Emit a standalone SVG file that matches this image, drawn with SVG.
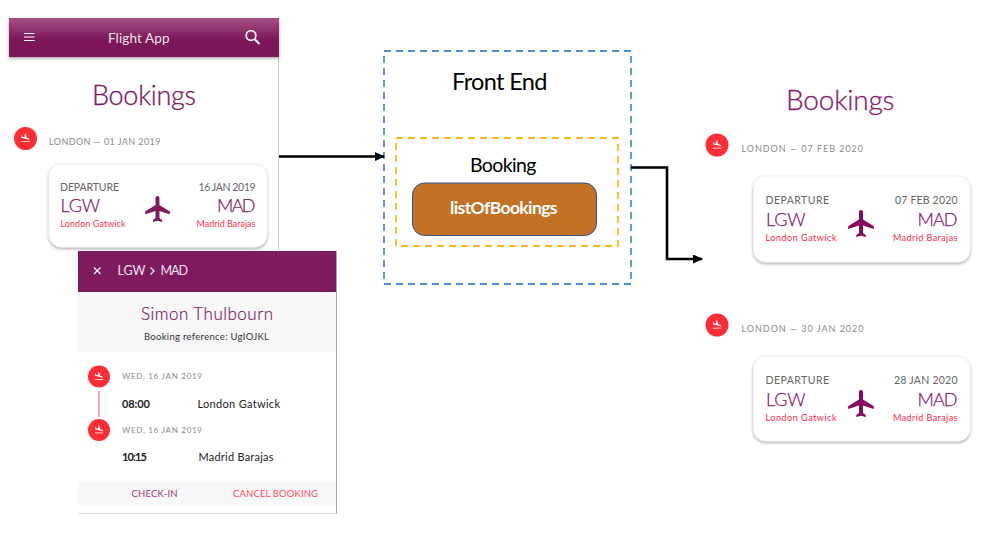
<svg xmlns="http://www.w3.org/2000/svg" xmlns:xlink="http://www.w3.org/1999/xlink" width="983" height="550" viewBox="0 0 983 550">
<style>
text{font-family:"Lato","Open Sans","Liberation Sans",sans-serif}
.title{fill:#7e1a5e;stroke:#7e1a5e;stroke-width:.3px;font-size:27px;font-weight:300}
.t2{fill:#8a1a6c;stroke:#8a1a6c}
.grey{fill:#8b8b8b;font-size:9px}
.g2{font-size:8px}
.dep{fill:#666;font-size:10.500px}
.code{fill:#7e1a5e;stroke:#7e1a5e;stroke-width:.25px;font-size:18px;font-weight:300}
.c2{fill:#8a1470;stroke:#8a1470}
.place{fill:#ff3347;font-size:9px}
.p2{fill:#ff1f48;font-weight:400}
.dark{fill:#222;font-size:11px}
.lite{fill:#f0e4ec;font-weight:400}
.card{fill:#fff;stroke:#eee;stroke-width:.7;filter:url(#sh)}
.pl{fill:#7e1a5e}
.pl2{fill:#850a60}
.cn{fill:none;stroke:#000;stroke-width:2.600}
</style>
<defs>
<linearGradient id="hd" x1="0" y1="0" x2="0" y2="1"><stop offset="0" stop-color="#a85185"/><stop offset=".55" stop-color="#7b1858"/><stop offset="1" stop-color="#7b1858"/></linearGradient>
<filter id="sh" x="-10%" y="-10%" width="120%" height="125%"><feDropShadow dx="0" dy="1.500" stdDeviation="1.500" flood-color="#000" flood-opacity=".35"/></filter>
<marker id="ah" markerWidth="10" markerHeight="9" refX="9" refY="4.500" orient="auto" markerUnits="userSpaceOnUse"><path d="M0 0L10 4.500L0 9z" fill="#000"/></marker>
<symbol id="land" viewBox="0 0 24 24" overflow="visible"><circle cx="12" cy="12" r="12" fill="#ff2d35"/><g transform="translate(6.500 6) scale(.46)" fill="#fff"><path d="M2.500 19h19v2h-19zm7.180-5.730l4.350 1.160 5.310 1.420c.8.210 1.620-.26 1.840-1.060.21-.8-.26-1.620-1.060-1.840l-5.310-1.420-2.760-9.020L10.120 2v8.280L5.150 8.950l-.93-2.320-1.450-.39v5.170l1.600.43 5.310 1.430z"/></g></symbol>
<symbol id="plane" viewBox="2 2 19 20"><path d="M21 16v-2l-8-5V3.500c0-.83-.67-1.500-1.500-1.500S10 2.670 10 3.500V9l-8 5v2l8-2.500V19l-2 1.500V22l3.500-1 3.500 1v-1.500L13 19v-5.500l8 2.500z"/></symbol>
</defs>
<rect width="983" height="550" fill="#fff"/>

<g id="app-screen">
<path d="M278.500 57V250" stroke="#ccc" fill="none"/>
<rect x="9" y="18" width="270" height="39" fill="url(#hd)" filter="url(#sh)"/>
<path d="M24 33.500h10.500M24 37h10.500M24 40.500h10.500" stroke="#fff" stroke-width="1.200"/>
<text class="lite" x="108" y="42.500" font-size="13.500" textLength="61.500">Flight App</text>
<circle cx="251" cy="35.500" r="4.800" fill="none" stroke="#fff" stroke-width="1.700"/><path d="M254.500 39l5 5" stroke="#fff" stroke-width="2"/>
<text class="title" x="92" y="105" textLength="104">Bookings</text>
<use xlink:href="#land" x="14" y="127" width="23" height="23"/>
<text class="grey" x="49" y="144.500" textLength="111.500">LONDON — 01 JAN 2019</text>
<rect class="card" x="49" y="164" width="218" height="83" rx="12"/>
<text class="dep" x="60" y="191" textLength="59">DEPARTURE</text>
<text class="dep" x="255.500" y="191" text-anchor="end" textLength="57">16 JAN 2019</text>
<text class="code" x="60.500" y="212" textLength="39.500">LGW</text>
<text class="code" x="255.500" y="212" text-anchor="end" textLength="38.500">MAD</text>
<text class="place" x="60.500" y="227" textLength="65">London Gatwick</text>
<text class="place" x="255.500" y="227" text-anchor="end" textLength="59">Madrid Barajas</text>
<use xlink:href="#plane" class="pl" x="145" y="196" width="25" height="26"/>
</g>

<g id="booking-detail">
<rect x="78" y="251" width="258.500" height="263" fill="#fff"/>
<path d="M336.500 251V514" stroke="#aaa" fill="none"/>
<path d="M78 513.500H336" stroke="#ddd" fill="none"/>
<rect x="78" y="251" width="258" height="41" fill="#7e1a5e"/>
<path d="M94 267.500l6.500 6.500M100.500 267.500l-6.500 6.500" stroke="#fff" stroke-width="1.200"/>
<text class="lite" x="117.500" y="275" font-size="12.500" textLength="28">LGW</text>
<path d="M150.500 267.500l3.500 3.500l-3.500 3.500" fill="none" stroke="#f0e4ec" stroke-width="1.300"/>
<text class="lite" x="160.500" y="275" font-size="12.500" textLength="27.500">MAD</text>
<rect x="78" y="292" width="258" height="60" fill="#f8f8f8"/>
<text x="141" y="319.500" fill="#7e1a5e" stroke="#7e1a5e" stroke-width=".2" font-size="17" font-weight="300" textLength="132">Simon Thulbourn</text>
<text x="144" y="340" fill="#333" font-size="9.500" textLength="125">Booking reference: UgIOJKL</text>
<path d="M99 391V417" stroke="#ffabab" stroke-width="2"/>
<use xlink:href="#land" x="88" y="365.500" width="22" height="22"/>
<use xlink:href="#land" x="88" y="419" width="22" height="22"/>
<text class="grey g2" x="122" y="379" textLength="80">WED, 16 JAN 2019</text>
<text class="dark" x="122" y="407.500" textLength="28" font-weight="700">08:00</text>
<text class="dark" x="197.500" y="407.500" textLength="82.500">London Gatwick</text>
<text class="grey g2" x="122" y="433" textLength="80">WED, 16 JAN 2019</text>
<text class="dark" x="122" y="461" textLength="25" font-weight="700">10:15</text>
<text class="dark" x="198.500" y="461" textLength="75">Madrid Barajas</text>
<rect x="78" y="482" width="258" height="24" fill="#f8f8f8"/>
<text x="131.500" y="497" fill="#a0377f" font-size="9.500" textLength="46">CHECK-IN</text>
<text x="233" y="497" fill="#ff4d5e" font-size="9.500" textLength="85">CANCEL BOOKING</text>
</g>

<g id="front-end">
<rect x="384" y="51" width="247" height="233" fill="none" stroke="#4f8fd3" stroke-width="1.800" stroke-dasharray="7 5"/>
<text x="452" y="90" fill="#000" font-size="23.500" textLength="95.500">Front End</text>
</g>
<g id="booking">
<rect x="396" y="138" width="222" height="108" fill="none" stroke="#ffb81c" stroke-width="1.800" stroke-dasharray="7 5"/>
<text x="470" y="172" fill="#000" font-size="19.500" textLength="66.500">Booking</text>
</g>
<g id="list-of-bookings">
<rect x="412.500" y="183" width="184" height="52.500" rx="12" fill="#c37124" stroke="#2f528f"/>
<text x="450" y="214" fill="#fff" font-size="17.500" font-weight="700" textLength="107.500">listOfBookings</text>
</g>

<g id="result-list">
<text class="title t2" x="786" y="110" style="font-size:28px" textLength="108.500">Bookings</text>
<use xlink:href="#land" x="705.500" y="133.500" width="23" height="23"/>
<text class="grey" x="741.500" y="152" textLength="121.500">LONDON — 07 FEB 2020</text>
<rect class="card" x="753.500" y="176" width="216.500" height="86" rx="12"/>
<text class="dep" x="765.500" y="204" textLength="63.500">DEPARTURE</text>
<text class="dep" x="957.500" y="204" text-anchor="end" textLength="62.500">07 FEB 2020</text>
<text class="code c2" x="766" y="226" textLength="39.500">LGW</text>
<text class="code c2" x="957.500" y="226" text-anchor="end" textLength="40">MAD</text>
<text class="place p2" x="765.500" y="241" textLength="71">London Gatwick</text>
<text class="place p2" x="957.500" y="241" text-anchor="end" textLength="64.500">Madrid Barajas</text>
<use xlink:href="#plane" class="pl2" x="848" y="210" width="26" height="27"/>
<use xlink:href="#land" x="705.500" y="313.500" width="23" height="23"/>
<text class="grey" x="741.500" y="332" textLength="122">LONDON — 30 JAN 2020</text>
<rect class="card" x="753.500" y="356.500" width="216.500" height="84.500" rx="12"/>
<text class="dep" x="765.500" y="384" textLength="63.500">DEPARTURE</text>
<text class="dep" x="957.500" y="384" text-anchor="end" textLength="63.500">28 JAN 2020</text>
<text class="code c2" x="766" y="406" textLength="39.500">LGW</text>
<text class="code c2" x="957.500" y="406" text-anchor="end" textLength="40">MAD</text>
<text class="place p2" x="765.500" y="421" textLength="71">London Gatwick</text>
<text class="place p2" x="957.500" y="421" text-anchor="end" textLength="64.500">Madrid Barajas</text>
<use xlink:href="#plane" class="pl2" x="848" y="390" width="26" height="27"/>
</g>

<g id="connectors">
<path class="cn" d="M279 156.500H384" marker-end="url(#ah)"/>
<path class="cn" d="M631 167.500H667V259H702" marker-end="url(#ah)"/>
</g>
</svg>
